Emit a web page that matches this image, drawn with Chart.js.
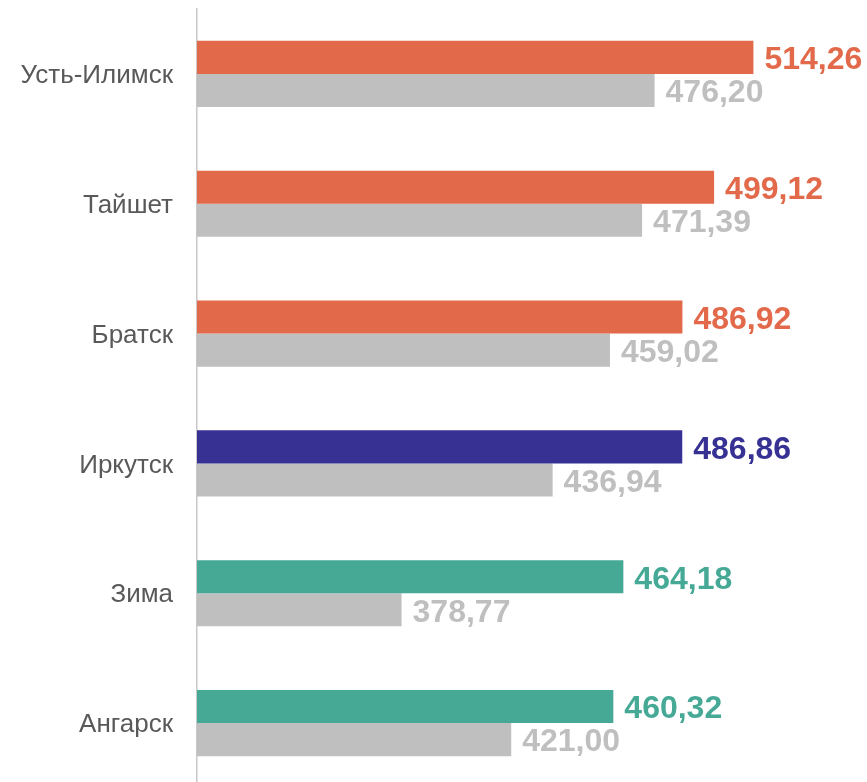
<!DOCTYPE html>
<html>
<head>
<meta charset="utf-8">
<script src="https://cdn.jsdelivr.net/npm/chart.js@4"></script>
<style>
  html, body { margin: 0; padding: 0; background: #fff; overflow: hidden; }
  #wrap { width: 867px; height: 790px; position: relative; }
</style>
</head>
<body>
<div id="wrap"><canvas id="chart" width="867" height="790"></canvas></div>
<script>
// cities, top to bottom
const cities = ['Усть-Илимск', 'Тайшет', 'Братск', 'Иркутск', 'Зима', 'Ангарск'];
const currentValues = [514.26, 499.12, 486.92, 486.86, 464.18, 460.32];
const previousValues = [476.20, 471.39, 459.02, 436.94, 378.77, 421.00];
const currentColors = ['#E2694A', '#E2694A', '#E2694A', '#373194', '#45A996', '#45A996'];
const greyColor = '#BFBFBF';

// draws the value next to the end of each bar
const valueLabels = {
  id: 'valueLabels',
  afterDatasetsDraw(chart) {
    const ctx = chart.ctx;
    ctx.save();
    ctx.font = 'bold 32px "Liberation Sans", Arial, sans-serif';
    ctx.textAlign = 'left';
    ctx.textBaseline = 'middle';
    chart.data.datasets.forEach((ds, di) => {
      chart.getDatasetMeta(di).data.forEach((bar, i) => {
        const v = ds.data[i];
        ctx.fillStyle = Array.isArray(ds.backgroundColor) ? ds.backgroundColor[i] : ds.backgroundColor;
        ctx.fillText(v.toFixed(2).replace('.', ','), bar.x + 11, bar.y + 3);
      });
    });
    ctx.restore();
  }
};

new Chart(document.getElementById('chart'), {
  type: 'bar',
  data: {
    labels: cities,
    datasets: [
      { data: currentValues, backgroundColor: currentColors },
      { data: previousValues, backgroundColor: greyColor }
    ]
  },
  options: {
    indexAxis: 'y',
    responsive: false,
    animation: false,
    layout: { padding: { top: 9, bottom: 2, right: 0, left: 0 } },
    datasets: { bar: { categoryPercentage: 0.51, barPercentage: 1 } },
    plugins: { legend: { display: false }, tooltip: { enabled: false } },
    scales: {
      x: { display: false, min: 300, max: 558 },
      y: {
        afterFit(scale) {
          scale.width = 197;
          scale.paddingTop = 0;
          scale.paddingBottom = 0;
        },
        grid: { display: false, drawTicks: false },
        border: { display: true, color: '#C8C8C8', width: 1.5 },
        ticks: {
          padding: 24,
          labelOffset: 2,
          color: '#595959',
          font: { family: '"Liberation Sans", Arial, sans-serif', size: 26 }
        }
      }
    }
  },
  plugins: [valueLabels]
});
</script>
</body>
</html>
